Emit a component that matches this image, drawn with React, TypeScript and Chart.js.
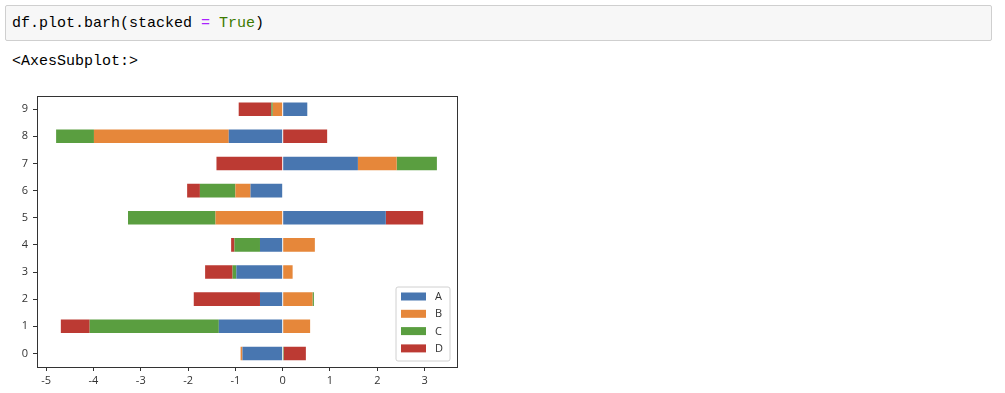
import React, { useEffect, useRef } from "react";
import { Chart, registerables } from "chart.js";

Chart.register(...registerables);

const categories = ["0", "1", "2", "3", "4", "5", "6", "7", "8", "9"];
const seriesA = [-0.85, -1.35, -0.48, -0.98, -0.48, 2.18, -0.68, 1.59, -1.14, 0.52];
const seriesB = [-0.04, 0.58, 0.63, 0.21, 0.68, -1.42, -0.32, 0.82, -2.85, -0.21];
const seriesC = [0.02, -2.73, 0.03, -0.08, -0.54, -1.85, -0.75, 0.85, -0.8, -0.03];
const seriesD = [0.47, -0.61, -1.4, -0.58, -0.07, 0.79, -0.27, -1.4, 0.94, -0.69];
const seriesNames = ["A", "B", "C", "D"];
const seriesColors = ["#4876b0", "#e6873a", "#5a9e40", "#bc3a33"];
const xTicks = [-5, -4, -3, -2, -1, 0, 1, 2, 3];
const xMin = -5.194;
const xMax = 3.685;

const framePlugin = {
  id: "frameAndLegend",
  afterDraw(chart: any) {
    const ctx = chart.ctx;
    const a = chart.chartArea;
    ctx.save();
    ctx.strokeStyle = "#333";
    ctx.lineWidth = 1;
    ctx.strokeRect(Math.round(a.left) + 0.5, Math.round(a.top) + 0.5, Math.round(a.right - a.left), Math.round(a.bottom - a.top));
    const bl = a.right - 61;
    const bt = a.bottom - 80;
    const bw = 54;
    const bh = 74;
    ctx.fillStyle = "rgba(255,255,255,0.9)";
    ctx.strokeStyle = "#d0d0d0";
    ctx.beginPath();
    const r = 2;
    ctx.moveTo(bl + r, bt);
    ctx.lineTo(bl + bw - r, bt);
    ctx.quadraticCurveTo(bl + bw, bt, bl + bw, bt + r);
    ctx.lineTo(bl + bw, bt + bh - r);
    ctx.quadraticCurveTo(bl + bw, bt + bh, bl + bw - r, bt + bh);
    ctx.lineTo(bl + r, bt + bh);
    ctx.quadraticCurveTo(bl, bt + bh, bl, bt + bh - r);
    ctx.lineTo(bl, bt + r);
    ctx.quadraticCurveTo(bl, bt, bl + r, bt);
    ctx.closePath();
    ctx.fill();
    ctx.stroke();
    ctx.font = "11px 'Open Sans', 'DejaVu Sans', sans-serif";
    ctx.textBaseline = "middle";
    ctx.textAlign = "left";
    chart.data.datasets.forEach((ds: any, i: number) => {
      const py = bt + 5.5 + i * 17.3;
      ctx.fillStyle = ds.backgroundColor;
      ctx.fillRect(bl + 5, py, 25, 8);
      ctx.fillStyle = "#333";
      ctx.fillText(ds.label, bl + 39, py + 4.5);
    });
    ctx.restore();
  },
};

export default function App() {
  const ref = useRef<HTMLCanvasElement>(null);
  useEffect(() => {
    if (!ref.current) return;
    const all = [seriesA, seriesB, seriesC, seriesD];
    const chart = new Chart(ref.current, {
      type: "bar",
      data: {
        labels: categories,
        datasets: all.map((d, i) => ({
          label: seriesNames[i],
          data: d,
          backgroundColor: seriesColors[i],
          borderWidth: 0,
          barPercentage: 0.5,
          categoryPercentage: 1.0,
        })),
      },
      options: {
        indexAxis: "y",
        animation: false,
        responsive: false,
        maintainAspectRatio: false,
        layout: { padding: { top: 0, right: 23, left: 0, bottom: 0 } },
        plugins: { legend: { display: false }, tooltip: { enabled: false } },
        scales: {
          x: {
            type: "linear",
            stacked: true,
            min: xMin,
            max: xMax,
            afterBuildTicks: (scale: any) => {
              scale.ticks = xTicks.map((v) => ({ value: v }));
            },
            afterFit: (scale: any) => {
              scale.height = 26;
            },
            border: { display: false },
            grid: { display: true, drawOnChartArea: false, drawTicks: true, tickLength: 4, tickColor: "#333" },
            ticks: {
              color: "#333",
              padding: 3,
              font: { family: "'Open Sans', 'DejaVu Sans', sans-serif", size: 11 },
              callback: (v: any) => String(v),
              maxRotation: 0,
            },
          },
          y: {
            type: "category",
            stacked: true,
            reverse: true,
            afterFit: (scale: any) => {
              scale.width = 37;
            },
            border: { display: false },
            grid: { display: true, offset: false, drawOnChartArea: false, drawTicks: true, tickLength: 4, tickColor: "#333" },
            ticks: {
              color: "#333",
              padding: 5,
              font: { family: "'Open Sans', 'DejaVu Sans', sans-serif", size: 11 },
            },
          },
        },
      },
      plugins: [framePlugin],
    } as any);
    return () => chart.destroy();
  }, []);

  const mono = "'Liberation Mono', 'DejaVu Sans Mono', monospace";
  return (
    <div>
      <div
        style={{
          position: "absolute",
          left: 5,
          top: 5,
          width: 987,
          height: 36,
          background: "#f7f7f7",
          border: "1px solid #cfcfcf",
          borderRadius: 2,
          boxSizing: "border-box",
        }}
      >
        <div
          style={{
            position: "absolute",
            left: 6,
            top: 8,
            fontFamily: mono,
            fontSize: 15,
            lineHeight: "20px",
            color: "#000",
            whiteSpace: "pre",
          }}
        >
          df.plot.barh(stacked <span style={{ color: "#aa22ff" }}>=</span>{" "}
          <span style={{ color: "#3d7a00" }}>True</span>)
        </div>
      </div>
      <div
        style={{
          position: "absolute",
          left: 12,
          top: 52,
          fontFamily: mono,
          fontSize: 15,
          lineHeight: "20px",
          color: "#000",
          whiteSpace: "pre",
        }}
      >
        {"<AxesSubplot:>"}
      </div>
      <div style={{ position: "absolute", left: 0, top: 84, width: 480, height: 309 }}>
        <canvas ref={ref} width={480} height={309} style={{ width: 480, height: 309, display: "block" }} />
      </div>
    </div>
  );
}
